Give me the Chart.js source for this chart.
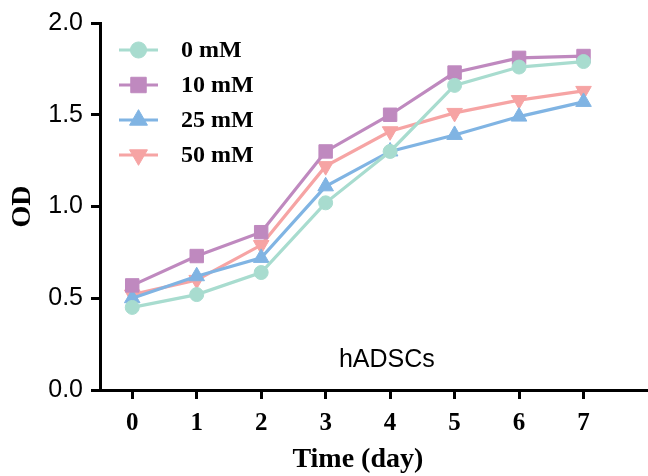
<!DOCTYPE html>
<html lang="en">
<head>
    <meta charset="UTF-8">
    <title>hADSCs OD</title>
    <script src="https://cdn.jsdelivr.net/npm/chart.js"></script>
    <style>
        html, body { margin: 0; padding: 0; background: #fff; }
        #wrap { width: 648px; height: 476px; }
    </style>
</head>
<body>
    <div id="wrap"><canvas id="odChart" width="648" height="476"></canvas></div>

    <script>
        // data
        const days = [0, 1, 2, 3, 4, 5, 6, 7];
        const seriesNames = ['0 mM', '10 mM', '25 mM', '50 mM'];
        const od0 = [0.45, 0.52, 0.64, 1.02, 1.30, 1.66, 1.76, 1.79];
        const od10 = [0.57, 0.73, 0.86, 1.30, 1.50, 1.73, 1.81, 1.82];
        const od25 = [0.50, 0.62, 0.72, 1.11, 1.30, 1.39, 1.49, 1.57];
        const od50 = [0.52, 0.60, 0.79, 1.22, 1.41, 1.51, 1.58, 1.63];
        const yTicks = [0, 0.5, 1.0, 1.5, 2.0];

        const colors = ['#a8dccf', '#bf89bf', '#80b4e3', '#f6a4a4'];
        const shapes = ['circle', 'rect', 'triangle', 'triangle'];
        const radii = [7, 9.5, 9, 9];
        const rotations = [0, 0, 0, 180];

        const serif = '"Liberation Serif", "Times New Roman", serif';
        const sans = '"Liberation Sans", Arial, sans-serif';

        const allValues = [od0, od10, od25, od50];
        const datasets = allValues.map((vals, i) => ({
            label: seriesNames[i],
            data: days.map((d, j) => ({ x: d, y: vals[j] })),
            borderColor: colors[i],
            backgroundColor: colors[i],
            borderWidth: 3.2,
            pointStyle: shapes[i],
            pointRadius: radii[i],
            pointRotation: rotations[i],
            pointBorderWidth: 1,
            pointBorderColor: colors[i],
            pointBackgroundColor: colors[i],
            tension: 0
        }));

        // legend (line + marker), panel label and x title
        const extras = {
            id: 'extras',
            afterDraw(chart) {
                const { ctx, chartArea } = chart;
                const xs = chart.scales.x;
                const x0 = chartArea.left + 19, x1 = chartArea.left + 58;
                const xm = (x0 + x1) / 2;
                ctx.save();
                chart.data.datasets.forEach((ds, i) => {
                    const y = chartArea.top + 27 + i * 35;
                    ctx.strokeStyle = ds.borderColor;
                    ctx.lineWidth = 3;
                    ctx.beginPath();
                    ctx.moveTo(x0, y);
                    ctx.lineTo(x1, y);
                    ctx.stroke();
                    ctx.fillStyle = ds.backgroundColor;
                    ctx.strokeStyle = ds.backgroundColor;
                    ctx.lineWidth = 1;
                    Chart.helpers.drawPoint(ctx, {
                        pointStyle: ds.pointStyle,
                        rotation: ds.pointRotation,
                        radius: ds.pointRadius * 1.15,
                        borderWidth: 1
                    }, xm, y);
                    ctx.fillStyle = '#000';
                    ctx.font = 'bold 24px ' + serif;
                    ctx.textAlign = 'left';
                    ctx.textBaseline = 'middle';
                    ctx.fillText(ds.label, chartArea.left + 81, y + 1);
                });
                ctx.fillStyle = '#000';
                ctx.font = '25px ' + sans;
                ctx.textAlign = 'center';
                ctx.textBaseline = 'alphabetic';
                ctx.fillText('hADSCs', xs.getPixelForValue(3.95), chartArea.top + 344);
                ctx.font = 'bold 28px ' + serif;
                ctx.textBaseline = 'middle';
                ctx.fillText('Time (day)', xs.getPixelForValue(3.5), 460);
                ctx.restore();
            }
        };

        const ctx = document.getElementById('odChart').getContext('2d');
        new Chart(ctx, {
            type: 'line',
            data: { datasets: datasets },
            options: {
                responsive: false,
                animation: false,
                layout: { autoPadding: false, padding: { top: 23, right: 0, left: 0, bottom: 0 } },
                plugins: { legend: { display: false }, tooltip: { enabled: false } },
                scales: {
                    x: {
                        type: 'linear',
                        min: -0.5,
                        max: 8,
                        afterBuildTicks: (s) => { s.ticks = days.map(d => ({ value: d })); },
                        afterFit: (s) => { s.height = 86; s.paddingLeft = 0; s.paddingRight = 0; },
                        border: { display: true, color: '#000', width: 3 },
                        grid: {
                            drawOnChartArea: false, drawTicks: true, tickLength: 9,
                            color: '#000', lineWidth: 3, tickWidth: 3, tickColor: '#000'
                        },
                        ticks: {
                            color: '#000',
                            padding: 10,
                            maxRotation: 0,
                            font: { family: serif, size: 25, weight: 'bold' }
                        }
                    },
                    y: {
                        min: 0,
                        max: 2,
                        afterBuildTicks: (s) => { s.ticks = yTicks.map(v => ({ value: v })); },
                        afterFit: (s) => { s.width = 100; },
                        border: { display: true, color: '#000', width: 3 },
                        grid: {
                            drawOnChartArea: false, drawTicks: true, tickLength: 9,
                            color: '#000', lineWidth: 3, tickWidth: 3, tickColor: '#000'
                        },
                        ticks: {
                            color: '#000',
                            padding: 8,
                            callback: (v) => v.toFixed(1),
                            font: { family: sans, size: 25 }
                        },
                        title: {
                            display: true,
                            text: 'OD',
                            color: '#000',
                            padding: { top: 6, bottom: 0 },
                            font: { family: serif, size: 28, weight: 'bold' }
                        }
                    }
                }
            },
            plugins: [extras]
        });
    </script>
</body>
</html>
